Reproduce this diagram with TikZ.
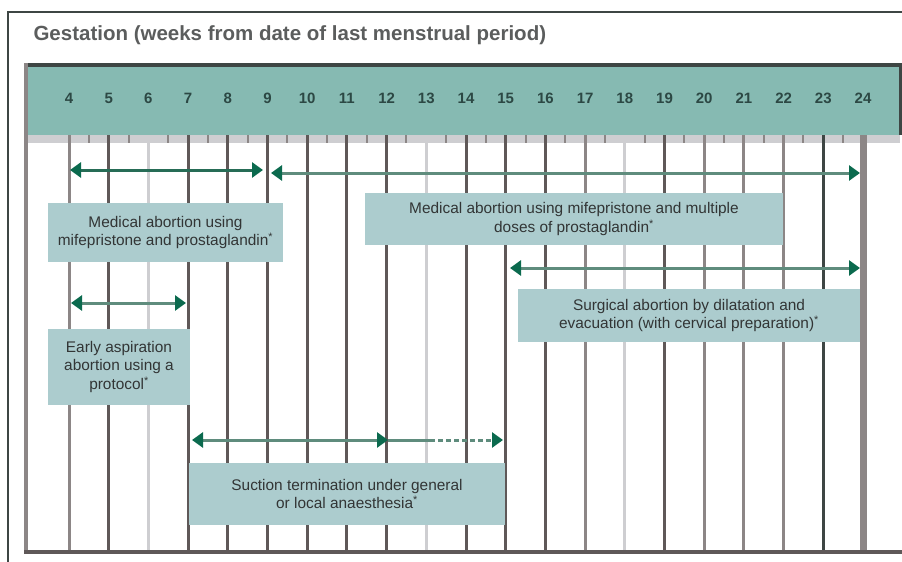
\documentclass[tikz,border=0pt]{standalone}
\usepackage{fontspec}
\setmainfont{Liberation Sans}
\usepackage{tikz}
\usetikzlibrary{arrows.meta}
\definecolor{Header}{RGB}{134,186,178}
\definecolor{Band}{RGB}{172,204,206}
\definecolor{Frame}{RGB}{62,70,68}
\definecolor{GridDark}{RGB}{95,88,88}
\definecolor{GridMid}{RGB}{140,134,134}
\definecolor{GridPale}{RGB}{206,206,209}
\definecolor{Head}{RGB}{11,106,78}
\definecolor{Shaft}{RGB}{95,140,125}
\definecolor{ShaftDark}{RGB}{38,108,86}
\definecolor{Ink}{RGB}{50,53,53}
\definecolor{Num}{RGB}{44,72,68}
\tikzset{
  methodbox/.style={fill=Band,inner sep=0pt,align=center,font=\fontsize{15.4}{18.5}\selectfont,text=Ink},
  weeklabel/.style={font=\fontsize{15}{15}\selectfont\bfseries,text=Num},
  span/.style={{Triangle[length=11pt,width=15pt,color=Head]}-{Triangle[length=11pt,width=15pt,color=Head]},line width=3pt,draw=Shaft},
  stem/.style={line width=3pt,draw=Shaft},
  gridline/.style={line width=3pt}
}

\begin{document}
\begin{tikzpicture}[x=1pt,y=-1pt]
\useasboundingbox (0,0) rectangle (902,562);
% frame and title
\draw[Frame,line width=1.5pt] (8,562) -- (8,12) -- (902,12);
\node[anchor=base west,font=\fontsize{20.5}{20.5}\selectfont\bfseries,text=Ink!80] (title) at (30,40) {Gestation (weeks from date of last menstrual period)};
% week header
\fill[Header] (26,65) rectangle (900,135);
\draw[Frame,line width=4pt] (24,65) -- (902,65);
\draw[Frame,line width=3pt] (900,65) -- (900,135);
\fill[GridPale] (26,135) rectangle (900,143);
\foreach \w in {4,...,24}
  \node[weeklabel] (lab\w) at ({69+(\w-4)*39.7},98) {\w};
\foreach \w in {4,...,23}
  \draw[GridMid,line width=2pt] ({69+(\w-3.5)*39.7},135) -- ++(0,8);
% grid
\foreach \w/\c in {4/GridMid,5/GridDark,6/GridPale,7/GridDark,8/GridDark,9/GridDark,10/GridDark,11/GridDark,12/GridDark,13/GridPale,14/GridDark,15/GridDark,16/GridDark,17/GridMid,18/GridPale,19/GridDark,20/GridMid,21/GridMid,22/GridMid,23/Frame}
  \draw[gridline,\c] ({69+(\w-4)*39.7},135) -- ++(0,417);
\draw[GridMid,line width=7pt] (863,135) -- (863,552);
\draw[GridMid,line width=4pt] (26,63) -- (26,552);
\draw[GridDark,line width=3.5pt] (24,552) -- (902,552);
% methods
\node[methodbox,minimum width=235pt,minimum height=59pt] (mifeEarly) at (165.5,232.5) {Medical abortion using\\mifepristone and prostaglandin\textsuperscript{*}};
\node[methodbox,minimum width=418pt,minimum height=52pt] (mifeLate) at (574,219) {Medical abortion using mifepristone and multiple\\doses of prostaglandin\textsuperscript{*}};
\node[methodbox,minimum width=342pt,minimum height=53pt] (dande) at (689,315.5) {Surgical abortion by dilatation and\\evacuation (with cervical preparation)\textsuperscript{*}};
\node[methodbox,minimum width=142pt,minimum height=76pt] (earlyAsp) at (119,367) {Early aspiration\\abortion using a\\protocol\textsuperscript{*}};
\node[methodbox,minimum width=316pt,minimum height=62pt] (suction) at (347,494) {Suction termination under general\\or local anaesthesia\textsuperscript{*}};
% ranges
\coordinate (meS) at (70,170);  \coordinate (meE) at (263,170);
\coordinate (mlS) at (271,173); \coordinate (mlE) at (860,173);
\coordinate (deS) at (510,268); \coordinate (deE) at (860,268);
\coordinate (eaS) at (71,303);  \coordinate (eaE) at (186,303);
\coordinate (suS) at (192,440); \coordinate (suM) at (388,440);
\coordinate (suD) at (430,440); \coordinate (suE) at (503,440);
\draw[span,draw=ShaftDark] (meS) -- (meE);
\draw[span] (mlS) -- (mlE);
\draw[span] (deS) -- (deE);
\draw[span] (eaS) -- (eaE);
\draw[span] (suS) -- (suM);
\draw[stem] (suM) -- (suD);
\draw[stem,dash pattern=on 5pt off 3pt,-{Triangle[length=11pt,width=15pt,color=Head]}] (suD) -- (suE);
\end{tikzpicture}
\end{document}
